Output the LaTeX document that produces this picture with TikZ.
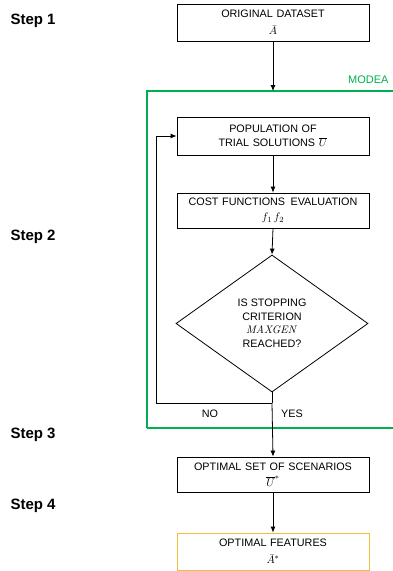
\documentclass[tikz,border=0pt]{standalone}
\usepackage[no-math]{fontspec}
\usepackage{amsmath,amssymb}
\setmainfont{Liberation Sans}
\usetikzlibrary{shapes.geometric,arrows.meta}
\definecolor{modeagreen}{RGB}{0,176,80}
\definecolor{featyellow}{RGB}{242,192,55}

\begin{document}
\begin{tikzpicture}[
    x=1pt, y=-1pt,
    every node/.style={font=\fontsize{10.8}{14.5}\selectfont, align=center},
    stepbox/.style={draw, line width=0.8pt, minimum width=192pt, text width=186pt, inner sep=0pt},
    decision/.style={diamond, draw, line width=0.8pt, minimum width=192pt, minimum height=137pt, inner sep=0pt, aspect=1.4},
    steplabel/.style={font=\bfseries\fontsize{15}{18}\selectfont, anchor=west},
    flow/.style={-{Latex[length=6pt,width=5pt]}, line width=0.8pt}
]
\useasboundingbox (0,0) rectangle (393,571);

% MODEA frame
\draw[modeagreen, line width=1.6pt] (147,428) -- (147,91) -- (400,91);
\draw[modeagreen, line width=1.6pt] (147,428) -- (400,428);
\node[text=modeagreen, font=\fontsize{11}{13}\selectfont, anchor=east] (modea) at (392,80) {MODEA};

% step labels
\node[steplabel] (s1) at (7,21) {Step 1};
\node[steplabel] (s2) at (7,237) {Step 2};
\node[steplabel] (s3) at (7,435) {Step 3};
\node[steplabel] (s4) at (7,506) {Step 4};

% flow
\node[stepbox, minimum height=37pt] (data) at (273,22.5) {ORIGINAL DATASET\\[2.5pt] $\bar{A}$};
\node[stepbox, minimum height=38pt] (pop) at (273,136) {POPULATION OF\\ TRIAL SOLUTIONS $\overline{U}$};
\node[stepbox, minimum height=35pt] (cost) at (273,210.5) {COST FUNCTIONS \,EVALUATION\\ $f_1\,f_2$};
\node[decision] (stop) at (272,323.5) {IS STOPPING\\ CRITERION\\[-2pt] $\mathit{MAXGEN}$\\ REACHED?};
\node[stepbox, minimum height=35pt] (opt) at (273,474.5) {OPTIMAL SET OF SCENARIOS\\[1pt] $\overline{U}^{*}$};
\node[stepbox, minimum height=37pt, draw=featyellow] (feat) at (273,551.5) {OPTIMAL FEATURES\\[2.5pt] $\bar{A}^{*}$};

\coordinate (split) at (272,403);
\coordinate (back) at (156,403);

\draw[flow] (data.south) -- (273,91);
\draw[flow] (pop) -- (cost);
\draw[flow] (cost.south) -- (stop.north);
\draw[line width=0.8pt] (stop.south) -- (split);
\draw[flow] (split) -- (opt.north);
\draw[flow] (split) -- (back) |- (pop.west);
\draw[flow] (opt) -- (feat);

\node (no) at (210,414) {NO};
\node (yes) at (292,414) {YES};
\end{tikzpicture}
\end{document}
